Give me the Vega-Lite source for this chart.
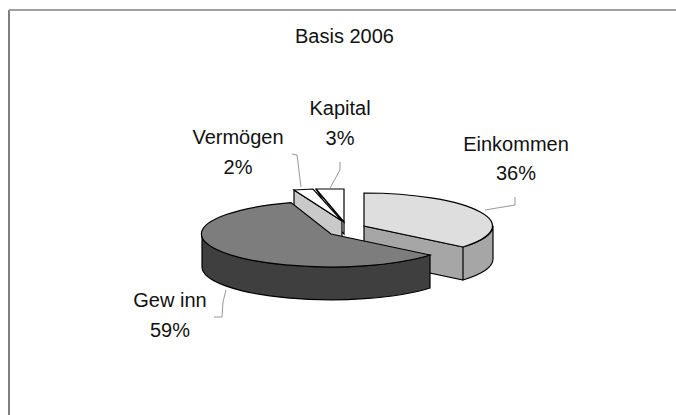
{
  "$schema": "https://vega.github.io/schema/vega-lite/v6.json",
  "width": 667,
  "height": 405,
  "autosize": "none",
  "padding": {"left": 9, "top": 10, "right": 0, "bottom": 0},
  "background": "white",
  "view": {"stroke": null},
  "title": {
    "text": "Basis 2006",
    "font": "Liberation Sans",
    "fontSize": 20,
    "fontWeight": "normal",
    "color": "#111111",
    "anchor": "start",
    "frame": "group",
    "dx": 286,
    "baseline": "alphabetic",
    "offset": -53
  },
  "data": {
    "values": [
      {"category": "Kapital", "value": 3},
      {"category": "Vermögen", "value": 2},
      {"category": "Einkommen", "value": 36},
      {"category": "Gew inn", "value": 59}
    ]
  },
  "transform": [
    {"calculate": "datum.category + '\\n' + datum.value + '%'", "as": "label"}
  ],
  "layer": [
    {
      "mark": {"type": "rule", "stroke": "#777777", "strokeWidth": 1},
      "encoding": {"x": {"value": 0}}
    },
    {
      "mark": {"type": "rule", "stroke": "#999999", "strokeWidth": 1},
      "encoding": {"y": {"value": 0}}
    },
    {
      "mark": {"type": "point", "filled": true, "opacity": 1, "size": 4, "stroke": "#000000", "strokeWidth": 1.2},
      "encoding": {
        "shape": {"field": "category", "type": "nominal", "legend": null,
          "scale": {"domain": ["Kapital", "Vermögen", "Einkommen", "Gew inn"], "range": [
            "M-26.5,-23.5 L1.5,9.5 L1.5,21.5 L-1.5,18.5 Z",
            "M-48.5,-22.5 L-0.5,8.5 L-0.5,41.5 L-48.5,10.5 Z",
            "M21.5,13.5 L120.5,34.5 L120.5,67.5 L21.5,46.5 Z M120.5,34.5 A129,33 0 0 0 150.5,13.5 L150.5,46.5 A129,33 0 0 1 120.5,67.5 Z",
            "M87.5,42.5 A129,33 0 0 1 -140.5,21.5 L-140.5,54.5 A129,33 0 0 0 87.5,75.5 Z"
          ]}},
        "color": {"field": "category", "type": "nominal", "legend": null,
          "scale": {"domain": ["Kapital", "Vermögen", "Einkommen", "Gew inn"], "range": ["#ffffff", "#c9c9c9", "#a6a6a6", "#3f3f3f"]}}
      }
    },
    {
      "mark": {"type": "point", "filled": true, "opacity": 1, "size": 4, "stroke": "#000000", "strokeWidth": 1.2},
      "encoding": {
        "shape": {"field": "category", "type": "nominal", "legend": null,
          "scale": {"domain": ["Kapital", "Vermögen", "Einkommen", "Gew inn"], "range": [
            "M-26.5,-23.5 L1.5,-23.5 L1.5,9.5 Z",
            "M-48.5,-22.5 L-29.5,-23.5 L-0.5,8.5 Z",
            "M21.5,-19.5 A129,33 0 0 1 120.5,34.5 L21.5,13.5 Z",
            "M87.5,42.5 A129,33 0 1 1 -51.5,-9.9 L-11.5,21.5 Z"
          ]}},
        "color": {"field": "category", "type": "nominal", "legend": null,
          "scale": {"domain": ["Kapital", "Vermögen", "Einkommen", "Gew inn"], "range": ["#ffffff", "#ffffff", "#dedede", "#7d7d7d"]}}
      }
    },
    {
      "mark": {"type": "point", "filled": false, "opacity": 1, "size": 4, "stroke": "#8a8a8a", "strokeWidth": 0.9},
      "encoding": {
        "shape": {"field": "category", "type": "nominal", "legend": null,
          "scale": {"domain": ["Kapital", "Vermögen", "Einkommen", "Gew inn"], "range": [
            "M-2.5,-50.5 L-2.5,-42.5 L-12.5,-24.5",
            "M-50.5,-58.5 L-45.5,-57.5 L-41.5,-25.5",
            "M142.5,-2.5 L172.5,-7.5 L172.5,-15.5",
            "M-128.5,104.5 L-120.5,104.5 L-119.5,89.5 L-116.5,77.5"
          ]}}
      }
    },
    {
      "transform": [{"filter": "datum.category === 'Kapital'"}],
      "mark": {"type": "text", "font": "Liberation Sans", "fontSize": 20, "lineHeight": 30, "lineBreak": "\n", "align": "center", "baseline": "alphabetic", "color": "#111111", "dx": -2.5, "dy": -97.5},
      "encoding": {"text": {"field": "label", "type": "nominal"}}
    },
    {
      "transform": [{"filter": "datum.category === 'Vermögen'"}],
      "mark": {"type": "text", "font": "Liberation Sans", "fontSize": 20, "lineHeight": 30, "lineBreak": "\n", "align": "center", "baseline": "alphabetic", "color": "#111111", "dx": -104.5, "dy": -68.5},
      "encoding": {"text": {"field": "label", "type": "nominal"}}
    },
    {
      "transform": [{"filter": "datum.category === 'Einkommen'"}],
      "mark": {"type": "text", "font": "Liberation Sans", "fontSize": 20, "lineHeight": 29, "lineBreak": "\n", "align": "center", "baseline": "alphabetic", "color": "#111111", "dx": 173.5, "dy": -61.5},
      "encoding": {"text": {"field": "label", "type": "nominal"}}
    },
    {
      "transform": [{"filter": "datum.category === 'Gew inn'"}],
      "mark": {"type": "text", "font": "Liberation Sans", "fontSize": 20, "lineHeight": 30, "lineBreak": "\n", "align": "center", "baseline": "alphabetic", "color": "#111111", "dx": -172.5, "dy": 94.5},
      "encoding": {"text": {"field": "label", "type": "nominal"}}
    }
  ],
  "resolve": {
    "scale": {"shape": "independent", "color": "independent"}
  }
}
